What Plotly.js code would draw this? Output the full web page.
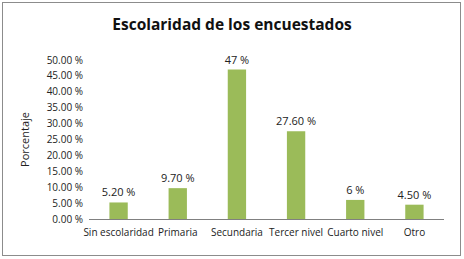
<!DOCTYPE html>
<html><head><meta charset="utf-8">
<script src="https://cdn.plot.ly/plotly-3.0.1.min.js"></script>
<style>
body{margin:0;padding:0;}
#frame{position:absolute;left:2px;top:2px;width:457px;height:252px;border:1px solid #8c8c8c;pointer-events:none;z-index:10;}
#chart{position:absolute;left:0;top:0;width:464px;height:259px;}
</style></head>
<body>
<div id="chart"></div><div id="frame"></div>
<script>
const categories = ["Sin escolaridad","Primaria","Secundaria","Tercer nivel","Cuarto nivel","Otro"];
const values = [5.2, 9.7, 47, 27.6, 6, 4.5];
const valueLabels = ["5.20 %","9.70 %","47 %","27.60 %","6 %","4.50 %"];
const yTickVals = [0,5,10,15,20,25,30,35,40,45,50];
const yTickText = ["0.00 %","5.00 %","10.00 %","15.00 %","20.00 %","25.00 %","30.00 %","35.00 %","40.00 %","45.00 %","50.00 %"];

const font = "Open Sans, Liberation Sans, sans-serif";
Plotly.newPlot('chart', [{
  type:'bar', x:categories, y:values, text:valueLabels, textposition:'outside',
  constraintext:'none',
  textfont:{family:font,size:11,color:'#222'}, cliponaxis:false,
  marker:{color:'#9BBB59'}, hoverinfo:'none'
}], {
  width:464, height:259,
  margin:{l:89,r:20,t:60,b:40},
  paper_bgcolor:'#fff', plot_bgcolor:'#fff',
  bargap:0.69,
  showlegend:false,
  title:{text:'<b>Escolaridad de los encuestados</b>', x:0.5, xanchor:'center', y:0.905, yanchor:'middle',
    font:{family:font,size:15.5,color:'#111'}},
  xaxis:{showline:true, linecolor:'#808080', linewidth:1, ticks:'', showgrid:false,
    ticklabelstandoff:4,
    tickfont:{family:font,size:10,color:'#222'}, fixedrange:true},
  yaxis:{range:[0,50], tickvals:yTickVals, ticktext:yTickText, showgrid:false, zeroline:false, showline:false,
    ticks:'', ticklabelstandoff:5, tickfont:{family:font,size:10,color:'#222'},
    title:{text:'Porcentaje', font:{family:font,size:11,color:'#222'}, standoff:14}, fixedrange:true}
}, {displayModeBar:false, staticPlot:true});
</script>
</body></html>
